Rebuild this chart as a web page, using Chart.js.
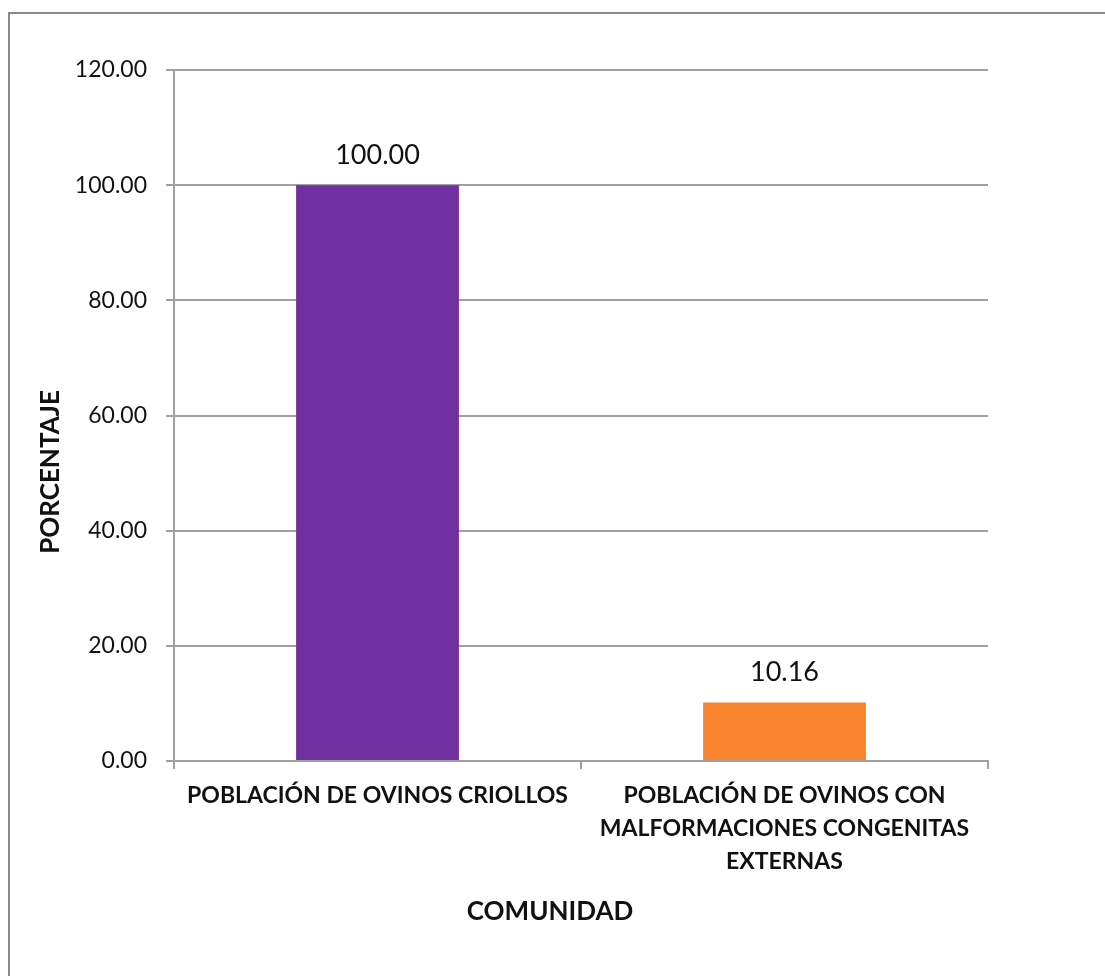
<!DOCTYPE html>
<html lang="es">
<head>
<meta charset="utf-8">
<title>Porcentaje por comunidad</title>
<script src="https://cdn.jsdelivr.net/npm/chart.js@4.4.1/dist/chart.umd.min.js"></script>
<style>
  html, body { margin: 0; padding: 0; background: #fff; }
  #wrap { width: 1105px; height: 976px; }
</style>
</head>
<body>
<div id="wrap"><canvas id="myChart" width="1105" height="976"></canvas></div>
<script>
// categorias del eje x (la segunda va en tres renglones)
var categorias = [
    "POBLACIÓN DE OVINOS CRIOLLOS",
    ["POBLACIÓN DE OVINOS CON", "MALFORMACIONES CONGENITAS", "EXTERNAS"]
];
var porcentajes = [100.00, 10.16];
var colores = ["#7030a0", "#f8832e"];
var ticksY = [0, 20, 40, 60, 80, 100, 120];

var gris = "#a0a0a0";
var fuente = "Lato, 'Open Sans', sans-serif";

// fondo blanco y marco gris (solo arriba e izquierda quedan a la vista)
var marco = {
    id: 'marco',
    beforeDraw: function(chart){
        var ctx = chart.ctx;
        ctx.save();
        ctx.fillStyle = '#fff';
        ctx.fillRect(0, 0, chart.width, chart.height);
        ctx.strokeStyle = '#8a8a8a';
        ctx.lineWidth = 2;
        ctx.beginPath();
        ctx.moveTo(9, chart.height);
        ctx.lineTo(9, 13);
        ctx.lineTo(chart.width, 13);
        ctx.stroke();
        ctx.restore();
    }
};

// valor encima de cada barra
var etiquetas = {
    id: 'etiquetas',
    afterDatasetsDraw: function(chart){
        var ctx = chart.ctx;
        var meta = chart.getDatasetMeta(0);
        ctx.save();
        ctx.font = "27px " + fuente;
        ctx.fillStyle = '#111';
        ctx.textAlign = 'center';
        ctx.textBaseline = 'middle';
        meta.data.forEach(function(bar, i){
            ctx.fillText(porcentajes[i].toFixed(2), bar.x, bar.y - 30);
        });
        ctx.restore();
    }
};

// titulos de los ejes
var titulos = {
    id: 'titulos',
    afterDraw: function(chart){
        var ctx = chart.ctx;
        ctx.save();
        ctx.font = "bold 26px " + fuente;
        ctx.fillStyle = '#111';
        ctx.textAlign = 'center';
        ctx.textBaseline = 'middle';
        ctx.fillText("COMUNIDAD", 550, 912);
        ctx.translate(51, 472);
        ctx.rotate(-Math.PI / 2);
        ctx.fillText("PORCENTAJE", 0, 0);
        ctx.restore();
    }
};

new Chart("myChart", {
    type: "bar",
    data: {
        labels: categorias,
        datasets: [{
            data: porcentajes,
            backgroundColor: colores,
            borderWidth: 0,
            barPercentage: 0.4,
            categoryPercentage: 1
        }]
    },
    options: {
        responsive: false,
        animation: false,
        devicePixelRatio: 1,
        layout: { padding: { top: 70, right: 117, left: 0, bottom: 0 } },
        plugins: {
            legend: { display: false },
            title: { display: false },
            tooltip: { enabled: false }
        },
        scales: {
            x: {
                afterFit: function(scale){ scale.height = 215; },
                grid: {
                    drawOnChartArea: false,
                    drawTicks: true,
                    tickLength: 8,
                    color: gris,
                    lineWidth: 2
                },
                border: { display: true, color: gris, width: 2 },
                ticks: {
                    autoSkip: false,
                    maxRotation: 0,
                    padding: 10,
                    color: '#111',
                    font: { family: fuente, size: 23, weight: 'bold', lineHeight: 1.43 }
                }
            },
            y: {
                min: 0,
                max: 120,
                afterFit: function(scale){ scale.width = 174; },
                afterBuildTicks: function(scale){
                    scale.ticks = ticksY.map(function(v){ return { value: v }; });
                },
                grid: {
                    drawTicks: true,
                    tickLength: 8,
                    color: gris,
                    lineWidth: 2
                },
                border: { display: true, color: gris, width: 2 },
                ticks: {
                    padding: 19,
                    color: '#111',
                    font: { family: fuente, size: 23 },
                    callback: function(v){ return Number(v).toFixed(2); }
                }
            }
        }
    },
    plugins: [marco, etiquetas, titulos]
});
</script>
</body>
</html>
